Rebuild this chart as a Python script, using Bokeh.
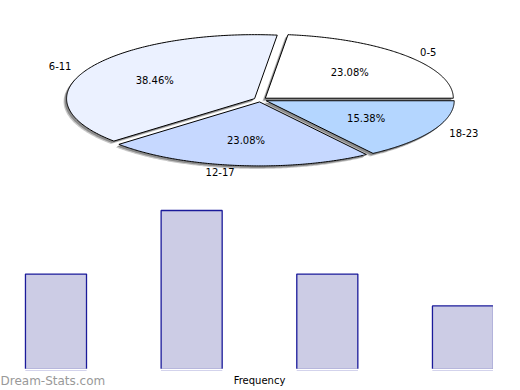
import numpy as np
from bokeh.plotting import figure
from bokeh.models import Range1d, ColumnDataSource, Label, BoxAnnotation
from bokeh.layouts import column
from bokeh.core.properties import value
from bokeh.embed import file_html
from bokeh.resources import INLINE

# ---- data ----
categories = ["0-5", "6-11", "12-17", "18-23"]
frequency = [3, 5, 3, 2]
slice_colors = ["#FFFFFF", "#EBF1FF", "#C6D8FF", "#B4D6FF"]
x_title = "Frequency"
watermark = "Dream-Stats.com"

FONT = "DejaVu Sans"
total = sum(frequency)
percent_labels = [f"{100 * f / total:.2f}%" for f in frequency]

W = 520
# ---- pie (elliptical, exploded, shadowed) ----
PH = 200
cx, cy, rx, ry = 259.9, 99.2, 188.0, 64.0
explode = 0.035

slices = dict(xs=[], ys=[], color=[])
shadow1 = dict(xs=[], ys=[])
shadow2 = dict(xs=[], ys=[])
outer = dict(x=[], y=[], text=[], align=[])
inner = dict(x=[], y=[], text=[])

start = 0.0
for f, cat, ptxt, col in zip(frequency, categories, percent_labels, slice_colors):
    ang = 2 * np.pi * f / total
    mid = start + ang / 2
    ox = cx + explode * rx * np.cos(mid)
    oy = cy - explode * ry * np.sin(mid)
    t = np.linspace(start, start + ang, 160)
    px = np.concatenate([[ox], ox + rx * np.cos(t)])
    py = np.concatenate([[oy], oy - ry * np.sin(t)])
    slices["xs"].append(px.tolist())
    slices["ys"].append(py.tolist())
    slices["color"].append(col)
    shadow1["xs"].append((px - 3).tolist())
    shadow1["ys"].append((py + 3).tolist())
    shadow2["xs"].append((px - 2).tolist())
    shadow2["ys"].append((py + 2).tolist())
    inner["x"].append(ox + 0.6 * rx * np.cos(mid))
    inner["y"].append(oy - 0.6 * ry * np.sin(mid))
    inner["text"].append(ptxt)
    outer["x"].append(ox + 1.1 * rx * np.cos(mid))
    outer["y"].append(oy - 1.1 * ry * np.sin(mid))
    outer["text"].append(cat)
    outer["align"].append("left" if np.cos(mid) >= 0 else "right")
    start += ang

p1 = figure(width=W, height=PH, x_range=Range1d(0, W), y_range=Range1d(PH, 0),
            output_backend="svg", toolbar_location=None, min_border=0,
            x_axis_location=None, y_axis_location=None, outline_line_color=None)
p1.grid.visible = False
p1.patches("xs", "ys", source=ColumnDataSource(shadow1), fill_color="#C8C8C8",
           line_color=None)
p1.patches("xs", "ys", source=ColumnDataSource(shadow2), fill_color="#8C8C8C",
           line_color=None)
p1.patches("xs", "ys", source=ColumnDataSource(slices), fill_color="color",
           line_color="black", line_width=1)
p1.text("x", "y", text="text", source=ColumnDataSource(inner),
        text_font=value(FONT), text_font_size="10px", text_align="center",
        text_baseline="middle", text_color="black")
p1.text("x", "y", text="text", text_align="align", source=ColumnDataSource(outer),
        text_font=value(FONT), text_font_size="10px",
        text_baseline="middle", text_color="black")

# ---- bar chart ----
BH = 190
BAR_W = 0.45
xs = list(range(len(categories)))
p2 = figure(width=W, height=BH, x_range=Range1d(-0.409, 3.424), y_range=Range1d(-0.66, 5.314),
            output_backend="svg", toolbar_location=None, min_border=0,
            x_axis_location=None, y_axis_location=None, outline_line_color=None)
p2.grid.visible = False
p2.vbar(x=xs, top=frequency, bottom=0, width=BAR_W, fill_color="#CCCCE5",
        line_color="#1A1A9A", line_width=1.3)
# the original plot area ends at the last bar's right edge (clipping its border)
p2.add_layout(BoxAnnotation(left=xs[-1] + BAR_W / 2 - 0.004, fill_color="white",
                            fill_alpha=1, line_color=None))
# baseline has no visible line
p2.hspan(y=[0], line_color="white", line_width=1.5)
p2.text(x=[sum(xs) / len(xs)], y=[-0.35], text=[x_title], text_font=value(FONT),
        text_font_size="10px", text_align="center", text_baseline="middle",
        text_color="black")
p2.add_layout(Label(x=0, y=10, x_units="screen", y_units="screen",
                    text=watermark, text_font=FONT, text_font_size="12px",
                    text_color="#999999", text_baseline="middle", text_align="left"))

layout = column(p1, p2)
open("out.html", "w").write(file_html(layout, INLINE))
